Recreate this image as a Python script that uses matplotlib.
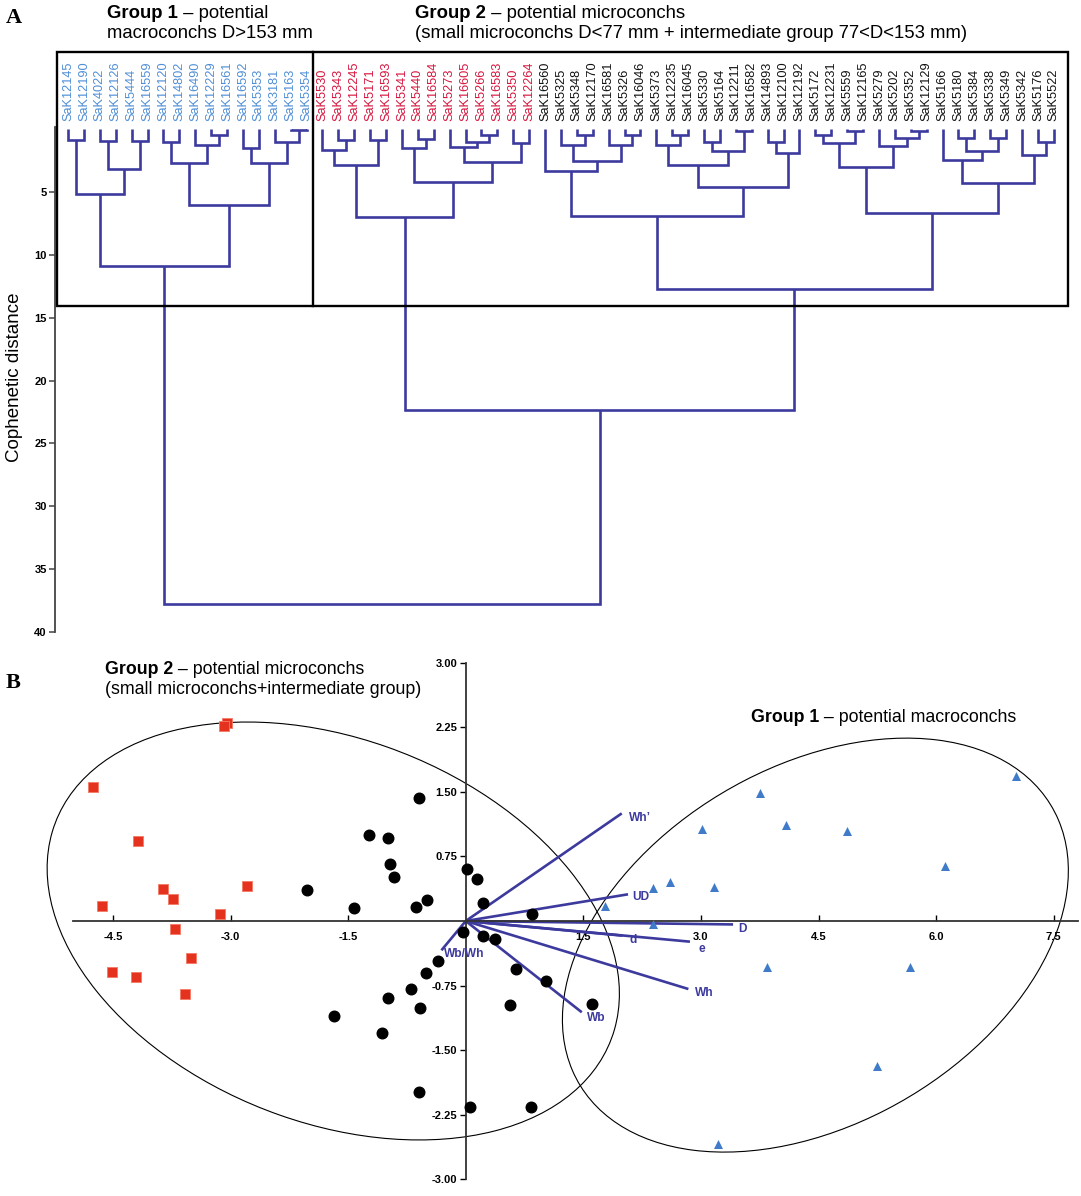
import matplotlib
matplotlib.use("Agg")
import matplotlib.pyplot as plt
import numpy as np
from matplotlib.patches import Ellipse, Rectangle
from matplotlib.lines import Line2D

plt.rcParams["font.family"] = ["Liberation Sans", "DejaVu Sans"]

W, H = 1081, 1196

# ---------------- panel A data ----------------
leaf_names = [
    "SaK12145", "SaK12190", "SaK4022", "SaK12126", "SaK5444", "SaK16559", "SaK12120", "SaK14802",
    "SaK16490", "SaK12229", "SaK16561", "SaK16592", "SaK5353", "SaK3181", "SaK5163", "SaK5354",
    "SaK5530", "SaK5343", "SaK12245", "SaK5171", "SaK16593", "SaK5341", "SaK5440", "SaK16584",
    "SaK5273", "SaK16605", "SaK5266", "SaK16583", "SaK5350", "SaK12264",
    "SaK16560", "SaK5325", "SaK5348", "SaK12170", "SaK16581", "SaK5326", "SaK16046", "SaK5373",
    "SaK12235", "SaK16045", "SaK5330", "SaK5164", "SaK12211", "SaK16582", "SaK14893", "SaK12100",
    "SaK12192", "SaK5172", "SaK12231", "SaK5559", "SaK12165", "SaK5279", "SaK5202", "SaK5352",
    "SaK12129", "SaK5166", "SaK5180", "SaK5384", "SaK5338", "SaK5349", "SaK5342", "SaK5176",
    "SaK5522",
]
leaf_group_sizes = [16, 14, 33]
leaf_group_colors = ["#4f8ed6", "#d6163f", "#111111"]

# nested merges: (height, left, right); ints are leaf indices
group1_tree = (10.87,
               (5.17, (0.87, 0, 1), (3.21, (0.93, 2, 3), (0.93, 4, 5))),
               (6.04, (2.73, (1.0, 6, 7), (1.27, 8, (0.48, 9, 10))),
                      (2.73, (1.54, 11, 12), (1.0, 13, (0.1, 14, 15)))))
red_tree = (6.97,
            (2.86, (1.67, 16, (0.87, 17, 18)), (0.87, 19, 20)),
            (4.19, (1.54, 21, (0.82, 22, 23)),
                   (2.6, (1.4, 24, (1.0, 25, (0.48, 26, 27))), (1.14, 28, 29))))
black_tree = (12.7,
              (6.92, (3.3, 30, (2.52, (1.27, 31, (0.48, 32, 33)), (1.27, 34, (0.48, 35, 36)))),
                     (4.64, (2.86, (1.27, 37, (0.48, 38, 39)), (1.72, (1.0, 40, 41), (0.12, 42, 43))),
                            (1.88, (1.0, 44, 45), 46))),
              (6.7, (3.0, (1.14, (0.48, 47, 48), (0.12, 49, 50)), (1.35, 51, (0.74, 52, (0.12, 53, 54)))),
                    (4.27, (2.47, 55, (1.72, (0.7, 56, 57), (0.7, 58, 59))), (2.07, 60, (1.0, 61, 62)))))
full_tree = (37.77, group1_tree, (22.35, red_tree, black_tree))

dist_ticks = [5, 10, 15, 20, 25, 30, 35, 40]

# ---------------- panel B data ----------------
red_x = [-3.05, -3.08, -4.75, -4.18, -3.86, -3.74, -2.79, -4.64, -3.14, -3.71, -3.51, -4.51, -4.20, -3.58]
red_y = [2.30, 2.26, 1.56, 0.93, 0.37, 0.26, 0.41, 0.17, 0.08, -0.09, -0.43, -0.59, -0.65, -0.85]

black_x = [-0.59, -1.24, -0.99, -0.97, -0.91, -2.03, -1.42, -0.63, -0.50, 0.01, 0.14, 0.22, 0.85, -0.03,
           0.22, 0.37, -0.35, -0.51, -0.70, -0.99, -0.58, -1.68, -1.07, 0.64, 1.02, 0.57, -0.60, 0.05,
           0.83, 1.61]
black_y = [1.43, 1.00, 0.96, 0.66, 0.51, 0.36, 0.15, 0.16, 0.24, 0.60, 0.49, 0.21, 0.08, -0.13,
           -0.17, -0.21, -0.46, -0.60, -0.79, -0.89, -1.01, -1.10, -1.30, -0.56, -0.70, -0.98, -1.99, -2.16,
           -2.16, -0.96]

blue_x = [7.02, 3.75, 3.02, 4.09, 4.86, 6.11, 2.39, 2.60, 3.17, 1.78, 2.39, 3.84, 5.67, 5.25, 3.22]
blue_y = [1.68, 1.49, 1.07, 1.11, 1.05, 0.64, 0.38, 0.45, 0.39, 0.17, -0.03, -0.53, -0.54, -1.68, -2.59]

vec_names = ["Wh’", "UD", "D", "e", "d", "Wh", "Wb", "Wb/Wh"]
vec_x = [1.99, 2.07, 3.41, 2.86, 2.00, 2.84, 1.48, -0.31]
vec_y = [1.25, 0.31, -0.04, -0.24, -0.17, -0.79, -1.06, -0.34]
vec_label_offsets = [(5, -3), (3, -2), (4, -3), (6, -5), (5, -3), (5, -3), (4, -4), (2, -3)]

# ellipses: centre, half-extent in x, half-extent in y, correlation
ell_group2 = (-1.69, -0.116, 3.65, 2.427, -0.30)
ell_group1 = (4.46, -0.28, 3.227, 2.404, 0.36)

pca_xticks = [-4.5, -3.0, -1.5, 1.5, 3.0, 4.5, 6.0, 7.5]
pca_yticks = [-3.0, -2.25, -1.5, -0.75, 0.75, 1.5, 2.25, 3.0]

LINE = "#3d3a9e"


def fx(px):
    return px / W


def fy(py):
    return 1 - py / H


def draw_tree(ax, node):
    if isinstance(node, int):
        return node, 0.0
    h, a, b = node
    xa, ha = draw_tree(ax, a)
    xb, hb = draw_tree(ax, b)
    ax.plot([xa, xa, xb, xb], [ha, h, h, hb], color=LINE, lw=1.9,
            solid_joinstyle="miter", solid_capstyle="butt", clip_on=False)
    return (xa + xb) / 2, h


def header(ax, px, py, bold, rest, size=12.5):
    t = ax.figure.text(fx(px), fy(py), bold, fontsize=size, fontweight="bold", ha="left", va="center")
    ax.annotate(rest, xy=(1, 0), xycoords=t, ha="left", va="bottom", fontsize=size,
                annotation_clip=False)


def cov_ellipse(ax, cx, cy, sx, sy, r):
    cov = np.array([[sx * sx, r * sx * sy], [r * sx * sy, sy * sy]])
    vals, vecs = np.linalg.eigh(cov)
    angle = np.degrees(np.arctan2(vecs[1, 1], vecs[0, 1]))
    e = Ellipse((cx, cy), 2 * np.sqrt(vals[1]), 2 * np.sqrt(vals[0]), angle=angle,
                fill=False, edgecolor="black", lw=0.8, clip_on=False, zorder=1)
    ax.add_patch(e)


fig = plt.figure(figsize=(W / 100, H / 100), dpi=100)

# ================= panel A: dendrogram =================
ax1 = fig.add_axes([fx(55), fy(632), 1020 / W, 505 / H])
ax1.set_xlim(-0.82, 63.33)
ax1.set_ylim(40, -0.16)
for s in ["top", "right", "bottom"]:
    ax1.spines[s].set_visible(False)
ax1.spines["left"].set_color("#444444")
ax1.spines["left"].set_linewidth(1.3)
ax1.set_xticks([])
ax1.set_yticks(dist_ticks)
ax1.tick_params(axis="y", direction="out", length=4, width=1.1, color="#444444", pad=2)
for lab in ax1.get_yticklabels():
    lab.set_fontweight("bold")
    lab.set_fontsize(8)

draw_tree(ax1, full_tree)

colors = []
for size, col in zip(leaf_group_sizes, leaf_group_colors):
    colors += [col] * size
for i, (name, col) in enumerate(zip(leaf_names, colors)):
    ax1.text(i, -0.6, name, rotation=90, ha="center", va="bottom", fontsize=9.2,
             color=col, clip_on=False)

fig.text(fx(15), fy(377), "Cophenetic distance", rotation=90, ha="center", va="center", fontsize=13.5)

# boxes around the groups
fig.add_artist(Rectangle((fx(57), fy(306)), (1068 - 57) / W, (306 - 52) / H,
                         transform=fig.transFigure, fill=False, edgecolor="black", lw=1.7))
fig.add_artist(Line2D([fx(313), fx(313)], [fy(52), fy(306)], transform=fig.transFigure,
                      color="black", lw=1.7))

header(ax1, 107, 13, "Group 1", " – potential", size=13.3)
fig.text(fx(107), fy(34), "macroconchs D>153 mm", fontsize=13.3, ha="left", va="center")
header(ax1, 415, 13, "Group 2", " – potential microconchs", size=13.3)
fig.text(fx(415), fy(34), "(small microconchs D<77 mm + intermediate group 77<D<153 mm)",
         fontsize=13.3, ha="left", va="center")

fig.text(fx(6), fy(18), "A", fontsize=16, fontweight="bold", family="Liberation Serif",
         ha="left", va="center")

# ================= panel B: PCA biplot =================
ax2 = fig.add_axes([fx(73), fy(1179.3), 1005 / W, 516.6 / H])
ax2.set_xlim(-5.01, 7.81)
ax2.set_ylim(-3.0, 3.0)
ax2.spines["left"].set_position(("data", 0))
ax2.spines["bottom"].set_position(("data", 0))
ax2.spines["top"].set_visible(False)
ax2.spines["right"].set_visible(False)
for s in ["left", "bottom"]:
    ax2.spines[s].set_color("#333333")
    ax2.spines[s].set_linewidth(1.3)
ax2.patch.set_visible(False)

ax2.set_xticks(pca_xticks)
ax2.set_xticklabels(["%.1f" % v for v in pca_xticks])
ax2.set_yticks(pca_yticks)
ax2.set_yticklabels(["%.2f" % v for v in pca_yticks])
ax2.tick_params(axis="x", direction="in", length=4, width=1.0, pad=8)
ax2.tick_params(axis="y", direction="out", length=4, width=1.0, pad=2)
for lab in ax2.get_xticklabels() + ax2.get_yticklabels():
    lab.set_fontweight("bold")
    lab.set_fontsize(8)

cov_ellipse(ax2, *ell_group2)
cov_ellipse(ax2, *ell_group1)

for name, x, y, off in zip(vec_names, vec_x, vec_y, vec_label_offsets):
    ax2.plot([0, x], [0, y], color=LINE, lw=1.9, solid_capstyle="butt", zorder=2, clip_on=False)
    ax2.annotate(name, xy=(x, y), xytext=off, textcoords="offset points", ha="left", va="center",
                 fontsize=8.6, fontweight="bold", color=LINE, annotation_clip=False)

ax2.scatter(red_x, red_y, marker="s", s=52, facecolor="#e5321f", edgecolor="#f47a66",
            linewidth=0.6, zorder=3, clip_on=False)
ax2.scatter(black_x, black_y, marker="o", s=58, color="black", zorder=3, clip_on=False)
ax2.scatter(blue_x, blue_y, marker="^", s=42, color="#3f7bc8", linewidth=0, zorder=3, clip_on=False)

header(ax2, 105, 669, "Group 2", " – potential microconchs", size=12.8)
fig.text(fx(105), fy(690), "(small microconchs+intermediate group)", fontsize=12.8, ha="left", va="center")
header(ax2, 751, 718, "Group 1", " – potential macroconchs", size=12.8)

fig.text(fx(6), fy(683), "B", fontsize=16, fontweight="bold", family="Liberation Serif",
         ha="left", va="center")

fig.savefig("out.png", dpi=100)
